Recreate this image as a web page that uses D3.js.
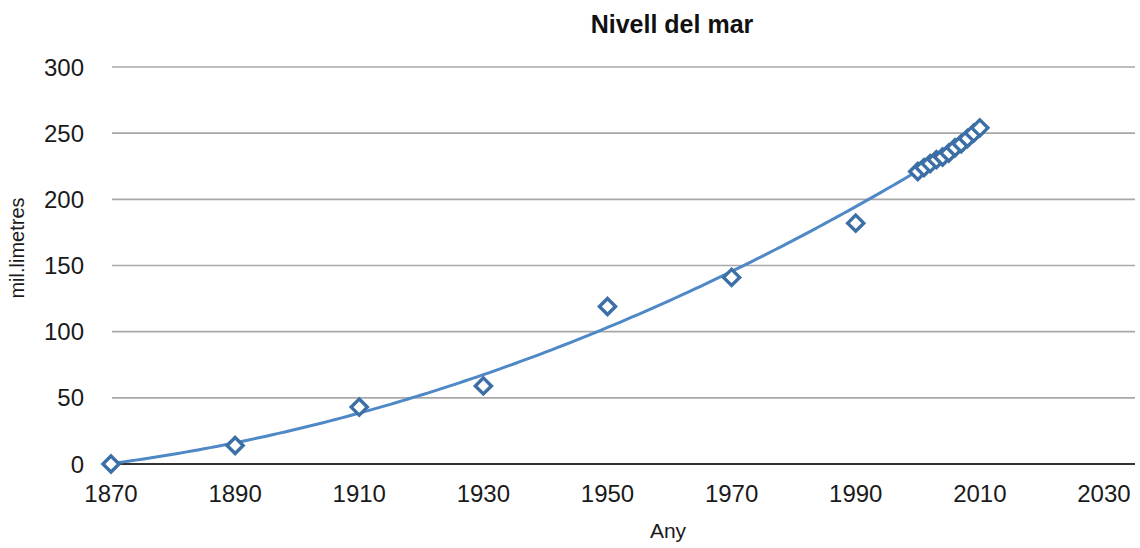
<!DOCTYPE html>
<html><head><meta charset="utf-8">
<script src="https://cdn.jsdelivr.net/npm/d3@7"></script>
<style>
html,body{margin:0;padding:0;background:#fff;}
svg{display:block;font-family:"Liberation Sans",Arial,Helvetica,sans-serif;}
</style></head>
<body><svg id="c" width="1140" height="548"></svg>
<script>
const years = [1870,1890,1910,1930,1950,1970,1990,2000,2001,2002,2003,2004,2005,2006,2007,2008,2009,2010];
const levels = [0,14,43,59,119,141,182,221,224,227,230,232,235,239,242,246,250,254];
const xTicks = [1870,1890,1910,1930,1950,1970,1990,2010,2030];
const yTicks = [0,50,100,150,200,250,300];
const title = "Nivell del mar";
const xLabel = "Any";
const yLabel = "mil.limetres";

const svg = d3.select("#c");
const x = d3.scaleLinear().domain([1870,2035]).range([111,1135]);
const y = d3.scaleLinear().domain([0,300]).range([464,67]);

// gridlines
svg.append("g").selectAll("line").data(yTicks.filter(d=>d>0)).join("line")
  .attr("x1",112).attr("x2",1135).attr("y1",d=>y(d)).attr("y2",d=>y(d))
  .attr("stroke","#a8a8a8").attr("stroke-width",1.6);

// y tick labels
svg.append("g").selectAll("text").data(yTicks).join("text")
  .attr("x",84).attr("y",d=>y(d)).attr("dy","0.36em").attr("text-anchor","end")
  .attr("font-size",24).attr("fill","#1a1a1a").text(d=>d);

// x axis line
svg.append("line").attr("x1",112).attr("x2",1135).attr("y1",y(0)).attr("y2",y(0))
  .attr("stroke","#333").attr("stroke-width",2.2);

// x tick labels
svg.append("g").selectAll("text").data(xTicks).join("text")
  .attr("x",d=>x(d)).attr("y",502).attr("text-anchor","middle")
  .attr("font-size",24).attr("fill","#1a1a1a").text(d=>d);

// quadratic least-squares trend
function polyfit2(xs, ys){
  const x0 = 1870;
  let S=[0,0,0,0,0], T=[0,0,0];
  xs.forEach((xv,i)=>{const u=xv-x0; let p=1; for(let k=0;k<5;k++){S[k]+=p; if(k<3) T[k]+=p*ys[i]; p*=u;}});
  const A=[[S[0],S[1],S[2],T[0]],[S[1],S[2],S[3],T[1]],[S[2],S[3],S[4],T[2]]];
  for(let i=0;i<3;i++){for(let j=i+1;j<3;j++){const f=A[j][i]/A[i][i]; for(let k=i;k<4;k++) A[j][k]-=f*A[i][k];}}
  const c=[0,0,0];
  for(let i=2;i>=0;i--){let s=A[i][3]; for(let k=i+1;k<3;k++) s-=A[i][k]*c[k]; c[i]=s/A[i][i];}
  return xv=>{const u=xv-x0; return c[0]+c[1]*u+c[2]*u*u;};
}
const fit = polyfit2(years, levels);
const trend = d3.range(1870, 2010.01, 1).map(v=>[v, fit(v)]);
svg.append("path").datum(trend)
  .attr("d", d3.line().x(d=>x(d[0])).y(d=>y(d[1])))
  .attr("fill","none").attr("stroke","#4f88c6").attr("stroke-width",3);

// diamond markers
const sym = d3.symbol().type(d3.symbolDiamond2).size(165);
svg.append("g").selectAll("path").data(years.map((v,i)=>[v,levels[i]])).join("path")
  .attr("transform",d=>`translate(${x(d[0])},${y(d[1])})`)
  .attr("d",sym).attr("fill","#fff").attr("stroke","#3b6fa6").attr("stroke-width",3.4);

// title
svg.append("text").attr("x",672).attr("y",33).attr("text-anchor","middle")
  .attr("font-size",25).attr("font-weight","bold").attr("fill","#111").text(title);
// axis labels
svg.append("text").attr("x",668).attr("y",538).attr("text-anchor","middle")
  .attr("font-size",21).attr("fill","#1a1a1a").text(xLabel);
svg.append("text").attr("transform","translate(24,248) rotate(-90)").attr("text-anchor","middle")
  .attr("font-size",20).attr("fill","#1a1a1a").text(yLabel);
</script></body></html>
